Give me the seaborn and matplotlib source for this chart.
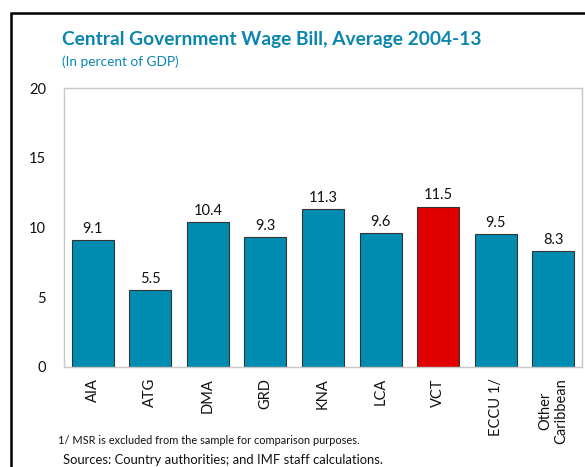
import matplotlib
matplotlib.use("Agg")
import matplotlib.pyplot as plt
import seaborn as sns
import pandas as pd
import numpy as np
from matplotlib.patches import Rectangle

categories = ["AIA", "ATG", "DMA", "GRD", "KNA", "LCA", "VCT", "ECCU 1/", "Other\nCaribbean"]
values = [9.1, 5.5, 10.4, 9.3, 11.3, 9.6, 11.5, 9.5, 8.3]
yticks = [0, 5, 10, 15, 20]

TEAL = "#008BB0"
RED = "#E00000"
colors = [RED if c == "VCT" else TEAL for c in categories]

sns.set_style("white")
plt.rcParams["font.family"] = ["Lato", "DejaVu Sans"]

df = pd.DataFrame({"cat": categories, "val": values})

fig = plt.figure(figsize=(5.85, 4.67), dpi=100)
ax = fig.add_axes([64/585, 1-367/467, (582-64)/585, (367-88)/467])

sns.barplot(data=df, x="cat", y="val", hue="cat", palette=colors, legend=False,
            saturation=1, width=0.73, edgecolor="#333333", linewidth=0.8, ax=ax)

for i, v in enumerate(values):
    ax.text(i, v + 0.3, f"{v:.1f}", ha="center", va="bottom", fontsize=10.5, color="#111111")

ax.set_ylim(0, 20)
ax.set_xlim(-0.5, len(categories) - 0.5)
ax.set_yticks(yticks)
ax.set_xlabel("")
ax.set_ylabel("")
for s in ax.spines.values():
    s.set_color("#C8C8C8")
    s.set_linewidth(1.0)
ax.tick_params(axis="y", direction="in", length=5, color="#C8C8C8", labelsize=10.5, pad=13, labelcolor="#111111")
ax.tick_params(axis="x", which="major", length=0, labelsize=10.5, rotation=90, pad=8, labelcolor="#111111")
ax.set_xticks(np.arange(0.5, len(categories) - 0.5, 1), minor=True)
ax.tick_params(axis="x", which="minor", direction="in", length=5, color="#C8C8C8")
for lab in ax.get_xticklabels():
    lab.set_va("top")
    lab.set_ha("center")

fig.text(62/585, 1-39/467, "Central Government Wage Bill, Average 2004-13", fontsize=13.8,
         fontweight="bold", color="#0A86AE", va="center", ha="left")
fig.text(62/585, 1-62/467, "(In percent of GDP)", fontsize=9.8, color="#0A86AE", va="center", ha="left")

fig.text(58/585, 1-441/467, "1/ MSR is excluded from the sample for comparison purposes.",
         fontsize=7.9, color="#111111", va="center", ha="left")
fig.text(63/585, 1-460/467, "Sources: Country authorities; and IMF staff calculations.",
         fontsize=9.4, color="#111111", va="center", ha="left")

fig.patches.append(Rectangle((11/585, -0.1), 1.2, 1 - 13/467 + 0.1, transform=fig.transFigure,
                             fill=False, edgecolor="black", linewidth=1.8, figure=fig))

fig.savefig("out.png", dpi=100)
